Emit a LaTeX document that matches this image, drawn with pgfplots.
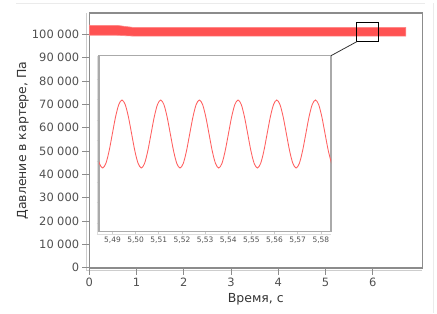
\documentclass[border=0pt]{standalone}
\usepackage{fontspec}
\setmainfont{DejaVu Sans}
\usepackage{pgfplots}
\pgfplotsset{compat=1.18}
\definecolor{band}{RGB}{255,82,82}
\definecolor{sine}{RGB}{255,95,95}
\definecolor{frame}{RGB}{140,140,140}
\definecolor{iframe}{RGB}{170,170,170}
\definecolor{offl}{RGB}{205,205,205}
\definecolor{ticklab}{RGB}{80,80,80}
\begin{document}
\begin{tikzpicture}[x=1bp,y=1bp]
\useasboundingbox (0,0) rectangle (437,313);
\draw[black!8] (16,309.7) -- (425,309.7);
\draw[black!8] (433.3,0) -- (433.3,309.7);
% offset axis lines of the main chart
\draw[offl, line width=0.8bp] (86,42.5) -- (86,299.7);
\draw[offl, line width=0.8bp] (86,42.5) -- (422.3,42.5);
\begin{axis}[
  name=main,
  at={(89.3bp,45.3bp)}, anchor=south west,
  scale only axis, width=333bp, height=254.4bp,
  xmin=0, xmax=7.05, ymin=0, ymax=109000,
  xtick={0,1,2,3,4,5,6}, ytick={0,10000,20000,30000,40000,50000,60000,70000,80000,90000,100000},
  xtick pos=bottom, ytick pos=left,
  scaled ticks=false,
  /pgf/number format/fixed,
  /pgf/number format/assume math mode=true,
  /pgf/number format/1000 sep={\hspace{0.3em}},
  tick label style={font=\fontsize{11.5}{14}\selectfont, text=ticklab},
  yticklabel style={anchor=east, inner sep=0pt, xshift=-3bp},
  xticklabel style={anchor=north, inner sep=0pt, yshift=-3.2bp},
  label style={font=\fontsize{12.5}{15}\selectfont, text=black!80},
  axis line style={frame, line width=1.6bp},
  tick style={frame, line width=0.8bp},
  tick align=outside, major tick length=7bp,
  xlabel={Время, с}, ylabel={Давление в картере, Па},
  xlabel style={at={(axis description cs:0.5,-0.123)}, anchor=center},
  ylabel style={at={(axis description cs:-0.1991,0.5)}, anchor=center},
  clip=false,
]
\addplot[fill=band, draw=band!70, line width=0.6bp] coordinates {
 (0,104000) (0.02,103850) (0.58,103850) (0.75,103400) (0.93,102950) (6.70,102950)
 (6.70,99250) (0.93,99250) (0.75,99400) (0.58,99600) (0,99600)
} -- cycle;
\draw[frame, line width=1.6bp] (rel axis cs:1,0) -- (rel axis cs:1,1) -- (rel axis cs:0,1);
\coordinate (zc) at (axis cs:5.662,96830);
\coordinate (zd) at (axis cs:6.128,105140);
\end{axis}
% inset offset lines
\draw[offl!70, line width=0.5bp] (96.8,78.5) -- (96.8,257.3);
\draw[offl!70, line width=0.5bp] (96.8,78.5) -- (331,78.5);
\begin{axis}[
  name=inset,
  at={(99bp,81.3bp)}, anchor=south west,
  scale only axis, width=232bp, height=176bp,
  xmin=5.48417, xmax=5.5844, ymin=96583, ymax=105126,
  axis background/.style={fill=white},
  xtick={5.49,5.50,5.51,5.52,5.53,5.54,5.55,5.56,5.57,5.58},
  ytick={97000,98000,99000,100000,101000,102000,103000,104000},
  xtick pos=bottom, ytick pos=left,
  yticklabels={},
  scaled ticks=false,
  /pgf/number format/assume math mode=true,
  xticklabel style={font=\fontsize{7.5}{9}\selectfont, text=ticklab, inner sep=0pt, yshift=-3bp,
    /pgf/number format/fixed, /pgf/number format/fixed zerofill, /pgf/number format/precision=2, /pgf/number format/use comma},
  axis line style={iframe, line width=1.2bp},
  tick style={offl, line width=0.6bp},
  tick align=outside, major tick length=2.5bp,
  clip=true,
]
\addplot[sine, line width=0.85bp, smooth] coordinates {
(5.48296,100500) (5.48435,99896) (5.48574,99675) (5.48714,99896) (5.48853,100500) (5.48992,101325)
(5.49131,102150) (5.49271,102754) (5.49410,102975) (5.49549,102754) (5.49689,102150) (5.49828,101325)
(5.49967,100500) (5.50107,99896) (5.50246,99675) (5.50385,99896) (5.50524,100500) (5.50664,101325)
(5.50803,102150) (5.50942,102754) (5.51082,102975) (5.51221,102754) (5.51360,102150) (5.51499,101325)
(5.51639,100500) (5.51778,99896) (5.51917,99675) (5.52057,99896) (5.52196,100500) (5.52335,101325)
(5.52475,102150) (5.52614,102754) (5.52753,102975) (5.52892,102754) (5.53032,102150) (5.53171,101325)
(5.53310,100500) (5.53450,99896) (5.53589,99675) (5.53728,99896) (5.53867,100500) (5.54007,101325)
(5.54146,102150) (5.54285,102754) (5.54425,102975) (5.54564,102754) (5.54703,102150) (5.54843,101325)
(5.54982,100500) (5.55121,99896) (5.55260,99675) (5.55400,99896) (5.55539,100500) (5.55678,101325)
(5.55818,102150) (5.55957,102754) (5.56096,102975) (5.56235,102754) (5.56375,102150) (5.56514,101325)
(5.56653,100500) (5.56793,99896) (5.56932,99675) (5.57071,99896) (5.57210,100500) (5.57350,101325)
(5.57489,102150) (5.57628,102754) (5.57768,102975) (5.57907,102754) (5.58046,102150) (5.58185,101325)
(5.58325,100500) (5.58464,99896)
};
\end{axis}
\draw[black, line width=1bp] (zc) rectangle (zd);
\draw[black!80, line width=0.8bp] (zc) -- (inset.north east);
\end{tikzpicture}
\end{document}
